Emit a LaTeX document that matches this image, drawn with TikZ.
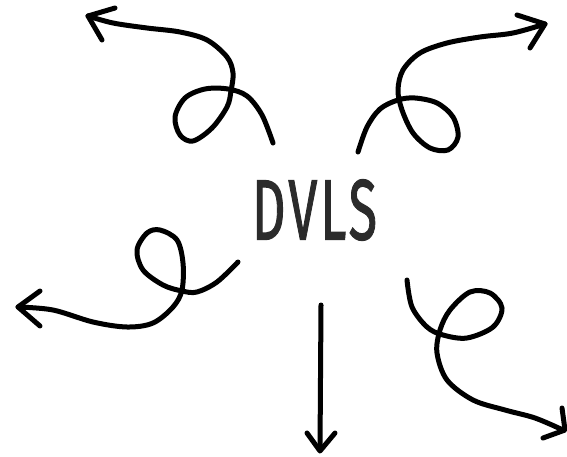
\documentclass[tikz,border=0pt]{standalone}
\usepackage{fontspec}
\newfontfamily\labelfont[FakeBold=1.6, LetterSpace=6]{Fira Sans}
\begin{document}
\begin{tikzpicture}[x=1pt,y=-1pt,
  stroke/.style={line width=5pt, line cap=round, line join=round, black}]
\useasboundingbox (0,0) rectangle (567,457);
\definecolor{txt}{HTML}{2B2B2B}
\node[inner sep=0pt, text=txt] (t) at (314.5,210) {\resizebox{125pt}{60pt}{\labelfont DVLS}};
% top-left
\draw[stroke] plot[smooth, tension=0.55] coordinates {(273,143) (262,115) (247,96) (228,89) (205,89) (185,98) (175,117) (180,135) (193,141) (212,128) (227,107) (231,91) (233,73) (227,57) (207,40) (180,32) (147,28) (113,23) (88,16)};
\draw[stroke] (115,8) -- (88,16) -- (102,40);
% top-right
\draw[stroke] plot[smooth, tension=0.55] coordinates {(358,152) (367,127) (380,109) (398,100) (415,98) (437,103) (453,117) (458,137) (448,150) (430,148) (413,133) (402,110) (398,90) (403,70) (420,53) (447,43) (480,37) (513,33) (545,24)};
\draw[stroke] (517,15) -- (545,24) -- (530,48);
% bottom-left
\draw[stroke] plot[smooth, tension=0.55] coordinates {(238,262) (217,282) (197,292) (182,291) (163,285) (143,270) (137,250) (147,233) (160,230) (177,240) (183,263) (182,290) (173,307) (153,323) (127,327) (93,322) (53,310) (18,307)};
\draw[stroke] (40,291) -- (18,307) -- (40,326);
% down
\draw[stroke] (321,305) -- (320,450);
\draw[stroke] (307,433) -- (320,451) -- (335,433);
% bottom-right
\draw[stroke] plot[smooth, tension=0.55] coordinates {(407,280) (412,307) (427,327) (443,335) (467,338) (493,327) (502,308) (490,293) (470,292) (450,310) (440,330) (437,353) (447,380) (473,400) (505,410) (535,418) (563,430)};
\draw[stroke] (562,408) -- (565,430) -- (543,438);
\end{tikzpicture}
\end{document}
